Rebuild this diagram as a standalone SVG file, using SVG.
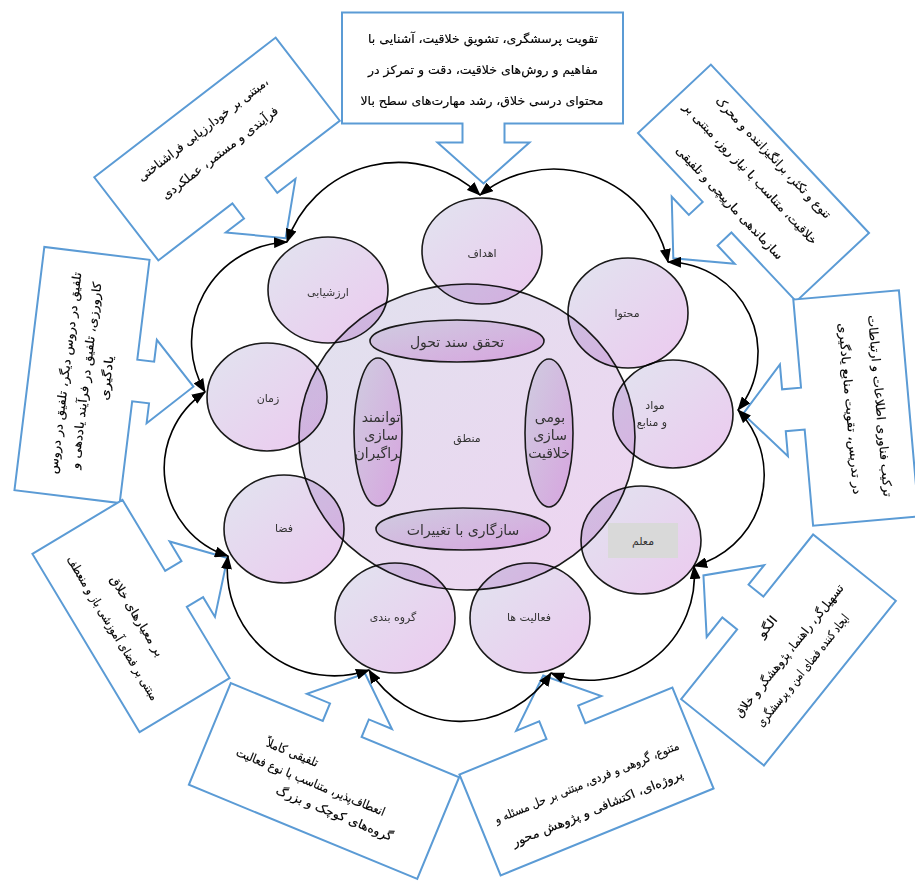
<svg xmlns="http://www.w3.org/2000/svg" width="915" height="888" viewBox="0 0 915 888">
<defs>
<linearGradient id="gO" x1="0" y1="0" x2="1" y2="1"><stop offset="0" stop-color="#e1e4ef"/><stop offset="1" stop-color="#ecc9ef"/></linearGradient>
<linearGradient id="gB" x1="0" y1="0" x2="1" y2="1"><stop offset="0" stop-color="#e0e2ee"/><stop offset="1" stop-color="#efd3f1"/></linearGradient>
<linearGradient id="gI" x1="0" y1="0" x2="1" y2="1"><stop offset="0" stop-color="#cfcde0"/><stop offset="1" stop-color="#d7a4df"/></linearGradient>
<marker id="ah" viewBox="0 0 14 11" refX="13" refY="5.5" markerWidth="14" markerHeight="11" markerUnits="userSpaceOnUse" orient="auto-start-reverse"><path d="M0,0 L14,5.5 L0,11 z" fill="#000"/></marker>
<clipPath id="clipL"><ellipse cx="378" cy="432" rx="24" ry="74"/></clipPath>
<clipPath id="clipR"><ellipse cx="549" cy="433" rx="24" ry="74"/></clipPath>
</defs>
<style>
.co{fill:#fff;stroke:#5b9bd5;stroke-width:2}
.ct{font-family:"DejaVu Sans",sans-serif;font-size:12px;fill:#000;stroke:#000;stroke-width:0.15;text-anchor:middle}
.arc{fill:none;stroke:#000;stroke-width:1.6;marker-start:url(#ah);marker-end:url(#ah)}
.oc{fill:url(#gO);stroke:#1a1a1a;stroke-width:1.6;mix-blend-mode:multiply}
.ie{fill:url(#gI);stroke:#1a1a1a;stroke-width:1.6}
.lb{font-family:"DejaVu Sans",sans-serif;font-size:11px;fill:#333;text-anchor:middle}
.il{font-family:"DejaVu Sans",sans-serif;font-size:14px;fill:#333;text-anchor:middle}
</style>
<rect width="915" height="888" fill="#fff"/>

<g id="box-goals">
<path class="co" transform="translate(482.5,68)" d="M-140.5,-55.5 H140.5 V55.5 H22 V74.5 H47 L1,115.5 L-45,74.5 H-20 V55.5 H-140.5 Z"/>
<text class="ct" font-size="14" x="483" y="43" textLength="230" lengthAdjust="spacingAndGlyphs">تقویت پرسشگری، تشویق خلاقیت، آشنایی با</text>
<text class="ct" font-size="14" x="483" y="74" textLength="230" lengthAdjust="spacingAndGlyphs">مفاهیم و روش&#x200C;های خلاقیت، دقت و تمرکز در</text>
<text class="ct" font-size="14" x="482" y="105" textLength="243" lengthAdjust="spacingAndGlyphs">محتوای درسی خلاق، رشد مهارت&#x200C;های سطح بالا</text>
</g>

<g id="box-eval" transform="translate(217,149) rotate(-37.6)">
<path class="co" d="M-114.5,-52.5 H114.5 V52.5 H21 V71.5 H44 L0,112.5 L-44,71.5 H-21 V52.5 H-114.5 Z"/>
<text class="ct" x="1" y="-20" textLength="161" lengthAdjust="spacingAndGlyphs">مبتنی بر خودارزیابی  فراشناختی،</text>
<text class="ct" x="0" y="9" textLength="143" lengthAdjust="spacingAndGlyphs">فرآیندی و مستمر، عملکردی</text>
</g>

<g id="box-content" transform="translate(753.5,183) rotate(46.8)">
<path class="co" d="M-115.5,-50 H115.5 V50 H21 V69 H46 L0,110 L-46,69 H-21 V50 H-115.5 Z"/>
<text class="ct" x="-5" y="-28" textLength="162" lengthAdjust="spacingAndGlyphs">تنوع و تکثر، برانگیزاننده و محرک</text>
<text class="ct" x="-9" y="0" textLength="189" lengthAdjust="spacingAndGlyphs">خلاقیت، متناسب با نیاز روز، مبتنی بر</text>
<text class="ct" x="-2" y="35" textLength="150" lengthAdjust="spacingAndGlyphs">سازماندهی مارپیچی و تلفیقی</text>
</g>

<g id="box-resources" transform="translate(856,408) rotate(85)">
<path class="co" d="M-113.5,-53 H113.5 V53 H17 V72 H42 L-4,113 L-50,72 H-25 V53 H-113.5 Z"/>
<text class="ct" x="0" y="-20" textLength="182" lengthAdjust="spacingAndGlyphs">ترکیب فناوری اطلاعات و ارتباطات</text>
<text class="ct" x="0" y="10" textLength="172" lengthAdjust="spacingAndGlyphs">در تدریس، تقویت منابع یادگیری</text>
</g>

<g id="box-time" transform="translate(82,375) rotate(-83)">
<path class="co" d="M-122.5,-53 H122.5 V53 H22 V70 H44 L2,112 L-40,70 H-20 V53 H-122.5 Z"/>
<text class="ct" x="0" y="-13" textLength="203" lengthAdjust="spacingAndGlyphs">تلفیق در دروس دیگر، تلفیق در دروس</text>
<text class="ct" x="0" y="8" textLength="188" lengthAdjust="spacingAndGlyphs">کارورزی، تلفیق در فرآیند یاددهی و</text>
<text class="ct" x="0" y="29" textLength="45" lengthAdjust="spacingAndGlyphs">یادگیری</text>
</g>

<g id="box-space">
<path class="co" transform="translate(131,616) rotate(-121)" d="M-104,-52.5 H104 V52.5 H21 V71.5 H44 L0,112.5 L-44,71.5 H-21 V52.5 H-104 Z"/>
<g transform="translate(131,616) rotate(59)">
<text class="ct" x="3" y="-1" textLength="92" lengthAdjust="spacingAndGlyphs">بر معیارهای خلاق</text>
<text class="ct" x="1" y="26" textLength="166" lengthAdjust="spacingAndGlyphs">مبتنی بر فضای آموزشی باز و منعطف</text>
</g>
</g>

<g id="box-grouping">
<path class="co" transform="translate(324,781) rotate(202.4)" d="M-123.5,-55 H123.5 V55 H24 V74 H49 L3,115 L-43,74 H-18 V55 H-123.5 Z"/>
<g transform="translate(324,781) rotate(22.4)">
<text class="ct" x="-40" y="-10" textLength="55" lengthAdjust="spacingAndGlyphs">تلفیقی کاملاً</text>
<text class="ct" x="-12" y="10" textLength="160" lengthAdjust="spacingAndGlyphs">انعطاف&#x200C;پذیر، متناسب با نوع فعالیت</text>
<text class="ct" x="22" y="30" textLength="125" lengthAdjust="spacingAndGlyphs">گروه&#x200C;های کوچک و بزرگ</text>
</g>
</g>

<g id="box-activities">
<path class="co" transform="translate(586.5,781.5) rotate(157.8)" d="M-115,-54.5 H115 V54.5 H21 V73.5 H46 L0,114.5 L-46,73.5 H-21 V54.5 H-115 Z"/>
<g transform="translate(586.5,781.5) rotate(-22.2)">
<text class="ct" x="0" y="5" textLength="198" lengthAdjust="spacingAndGlyphs">متنوع، گروهی و فردی، مبتنی بر حل مسئله و</text>
<text class="ct" x="0" y="33" textLength="183" lengthAdjust="spacingAndGlyphs">پروژه&#x200C;ای، اکتشافی و پژوهش محور</text>
</g>
</g>

<g id="box-teacher">
<path class="co" transform="translate(788.5,650) rotate(128.7)" d="M-105.5,-53 H105.5 V53 H16 V72 H41 L-5,113 L-51,72 H-26 V53 H-105.5 Z"/>
<g transform="translate(788.5,650) rotate(-51.3)">
<text class="ct" x="5" y="-27" textLength="24" lengthAdjust="spacingAndGlyphs">الگو</text>
<text class="ct" x="0" y="5" textLength="166" lengthAdjust="spacingAndGlyphs">تسهیل&#x200C;گر، راهنما، پژوهشگر و خلاق</text>
<text class="ct" x="-7" y="28" textLength="140" lengthAdjust="spacingAndGlyphs">ایجاد کننده فضای امن و پرسشگری</text>
</g>
</g>

<g id="connectors">
<path class="arc" d="M287,242 A118,118 0 0 1 480,195"/>
<path class="arc" d="M480,195 A117,117 0 0 1 668,262"/>
<path class="arc" d="M668,262 A91,91 0 0 1 738,410"/>
<path class="arc" d="M738,410 A94,94 0 0 1 694,566"/>
<path class="arc" d="M694,566 A105,105 0 0 1 551,673"/>
<path class="arc" d="M551,673 A108,108 0 0 1 369,670"/>
<path class="arc" d="M369,670 A107,107 0 0 1 228,556"/>
<path class="arc" d="M228,556 A92,92 0 0 1 205,392"/>
<path class="arc" d="M205,392 A100,100 0 0 1 287,242"/>
</g>

<g id="core">
<ellipse cx="467" cy="437" rx="168" ry="153" fill="url(#gB)" stroke="#1a1a1a" stroke-width="1.6"/>
</g>

<g id="node-goals"><ellipse class="oc" cx="482" cy="251" rx="60" ry="53"/><text class="lb" x="482" y="257">اهداف</text></g>
<g id="node-eval"><ellipse class="oc" cx="328" cy="290" rx="60" ry="53"/><text class="lb" x="328" y="296">ارزشیابی</text></g>
<g id="node-content"><ellipse class="oc" cx="628" cy="313" rx="60" ry="55"/><text class="lb" x="627" y="317">محتوا</text></g>
<g id="node-resources"><ellipse class="oc" cx="673" cy="414" rx="60" ry="54"/><text class="lb" x="655" y="409">مواد</text><text class="lb" x="652" y="426">و منابع</text></g>
<g id="node-teacher"><ellipse class="oc" cx="641" cy="540" rx="60" ry="54"/><rect x="608" y="523" width="70" height="35" fill="#d9d9d9"/><text class="lb" x="643" y="545">معلم</text></g>
<g id="node-activities"><ellipse class="oc" cx="530" cy="618" rx="60" ry="55"/><text class="lb" x="529" y="621">فعالیت ها</text></g>
<g id="node-grouping"><ellipse class="oc" cx="395" cy="618" rx="60" ry="55"/><text class="lb" x="393" y="621">گروه بندی</text></g>
<g id="node-space"><ellipse class="oc" cx="284" cy="529" rx="60" ry="54"/><text class="lb" x="284" y="532">فضا</text></g>
<g id="node-time"><ellipse class="oc" cx="267" cy="397" rx="60" ry="54"/><text class="lb" x="268" y="402">زمان</text></g>

<g id="inner-doc"><ellipse class="ie" cx="457" cy="341" rx="87" ry="21"/><text class="il" x="457" y="347">تحقق سند تحول</text></g>
<g id="inner-adapt"><ellipse class="ie" cx="463" cy="529" rx="87" ry="21"/><text class="il" x="463" y="535">سازگاری با تغییرات</text></g>
<g id="inner-empower"><ellipse class="ie" cx="378" cy="432" rx="24" ry="74"/><g clip-path="url(#clipL)"><text class="il" x="381" y="422">توانمند</text><text class="il" x="381" y="440">سازی</text><text class="il" x="380" y="458">فراگیران</text></g></g>
<g id="inner-local"><ellipse class="ie" cx="549" cy="433" rx="24" ry="74"/><g clip-path="url(#clipR)"><text class="il" x="550" y="422">بومی</text><text class="il" x="550" y="440">سازی</text><text class="il" x="549" y="458">خلاقیت</text></g></g>
<g id="node-logic"><text class="lb" font-size="13" x="467" y="442">منطق</text></g>
</svg>
